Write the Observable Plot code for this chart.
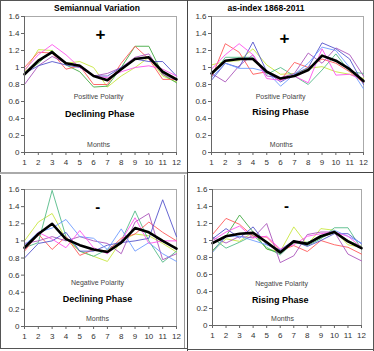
<!DOCTYPE html>
<html><head><meta charset="utf-8">
<script src="https://cdn.jsdelivr.net/npm/d3@7"></script>
<script src="https://cdn.jsdelivr.net/npm/@observablehq/plot@0.6"></script>
<style>
html,body{margin:0;padding:0;background:#fff;}
#root{position:relative;width:374px;height:351px;overflow:hidden;font-family:"Liberation Sans",Arial,sans-serif;}
.panel{position:absolute;}
.title{position:absolute;font-weight:bold;font-size:8.5px;color:#000;white-space:nowrap;transform:translateX(-50%);}
.line{position:absolute;}
</style></head>
<body><div id="root"></div>
<script>
const months = [1,2,3,4,5,6,7,8,9,10,11,12];
const yTicks = [0,0.2,0.4,0.6,0.8,1,1.2,1.4,1.6];
const titles = ["Semiannual Variation", "as-index 1868-2011"];
const signs = ["+", "+", "-", "-"];
const polarity = ["Positive Polarity", "Positive Polarity", "Negative Polarity", "Negative Polarity"];
const phases = ["Declining Phase", "Rising Phase", "Declining Phase", "Rising Phase"];
const axisTitle = "Months";

// Panel 1: positive polarity, declining phase
const p1Mean   = [0.92,1.08,1.18,1.05,1.02,0.90,0.85,0.98,1.10,1.12,0.95,0.86];
const p1Pink   = [0.97,1.15,1.27,1.15,1.00,0.90,0.88,0.95,1.00,1.02,0.98,0.90];
const p1Green  = [0.93,1.05,1.20,1.03,0.95,0.77,0.78,1.00,1.25,1.25,0.92,0.82];
const p1Yellow = [0.95,1.21,1.20,1.05,1.07,1.00,0.77,0.90,1.00,1.12,0.90,0.83];
const p1Red    = [1.00,1.18,1.17,0.98,1.02,0.80,0.80,1.05,1.25,1.10,0.86,0.86];
const p1Purple = [0.80,1.02,1.13,1.05,1.03,0.90,0.93,1.00,1.12,1.16,0.92,0.85];
const p1Blue   = [0.93,1.02,1.07,1.03,1.00,0.90,0.90,1.00,1.10,1.07,1.07,0.90];

// Panel 2: positive polarity, rising phase
const p2Mean   = [0.93,1.08,1.10,1.10,0.95,0.87,0.90,0.97,1.14,1.08,0.98,0.84];
const p2Red    = [0.88,1.28,1.18,0.92,0.95,0.85,1.06,1.00,1.10,1.05,0.95,0.82];
const p2Pink   = [0.98,1.15,1.28,1.15,0.87,0.85,0.90,0.82,1.22,0.91,0.92,0.85];
const p2Blue   = [0.85,1.05,1.00,1.30,0.95,0.83,0.92,1.00,1.29,1.22,1.10,0.80];
const p2Purple = [0.93,0.83,1.02,1.15,0.90,0.88,0.93,1.17,1.05,1.23,1.15,0.90];
const p2Light  = [0.88,1.05,0.99,0.99,0.95,0.78,0.92,1.05,1.24,1.20,1.00,0.75];
const p2Teal   = [0.90,1.12,1.12,1.12,0.92,1.00,0.90,0.80,0.97,1.16,0.95,0.93];
const p2Yellow = [1.03,1.07,1.08,1.22,1.03,0.92,0.93,0.99,1.01,0.95,0.92,0.87];

// Panel 3: negative polarity, declining phase
const p3Mean   = [0.92,1.08,1.20,1.02,0.95,0.90,0.87,0.98,1.15,1.10,1.00,0.91];
const p3Teal   = [0.92,0.98,1.59,1.05,0.88,0.82,0.90,1.00,1.35,1.00,0.75,0.88];
const p3Yellow = [1.00,1.22,1.32,1.02,0.88,0.82,0.76,1.00,1.08,1.06,0.97,0.87];
const p3Light  = [0.95,1.10,1.15,1.25,1.05,1.03,0.90,1.14,0.88,0.98,0.85,0.76];
const p3Blue   = [0.80,0.97,1.00,1.10,0.88,0.88,0.95,0.98,1.00,1.03,1.48,1.05];
const p3Red    = [0.88,1.08,0.90,1.05,0.83,0.90,0.88,1.03,1.08,1.22,1.10,1.00];
const p3Pink   = [0.90,1.10,1.02,0.92,1.12,0.92,0.85,1.00,1.27,0.97,1.00,1.00];
const p3Purple = [0.97,1.00,1.05,1.00,1.05,1.00,0.97,0.85,1.22,1.32,0.78,0.85];

// Panel 4: negative polarity, rising phase
const p4Mean   = [0.97,1.05,1.08,1.09,0.98,0.86,0.99,0.96,1.05,1.10,0.99,0.91];
const p4Red    = [1.07,1.26,1.19,1.05,1.04,0.88,0.94,0.87,1.00,0.95,0.92,0.84];
const p4Teal   = [1.03,0.91,0.98,1.06,0.92,0.83,0.98,0.94,1.02,1.15,1.15,0.90];
const p4Green  = [0.88,1.05,1.30,1.10,0.90,0.85,0.97,0.98,1.03,1.10,1.00,0.93];
const p4Yellow = [0.87,1.02,0.99,1.10,0.90,0.87,1.16,0.95,1.14,1.12,0.95,0.92];
const p4Blue   = [1.02,1.14,1.03,1.16,0.95,0.89,1.00,0.93,1.00,1.08,1.08,0.96];
const p4Light  = [0.86,1.05,1.05,1.00,0.95,0.88,0.98,0.97,1.05,1.12,1.05,0.97];
const p4Pink   = [1.00,1.10,1.17,1.03,1.05,0.90,0.95,1.05,1.08,1.10,1.05,0.92];
const p4Purple = [1.04,0.97,1.05,1.03,1.20,0.74,0.82,1.07,1.10,1.10,0.84,0.76];

// label anchor positions (data units) per panel: [signX, signY, polX, polY, phaseX, phaseY, monthsX, monthsY]
const labelPos = [
  [6.5,1.39, 6.36,0.66, 6.45,0.45, 6.36,0.094],
  [6.28,1.34, 6.0,0.66, 6.0,0.47, 6.05,0.094],
  [6.3,1.39, 6.28,0.51, 6.28,0.325, 6.28,0.093],
  [6.46,1.40, 6.1,0.49, 6.0,0.30, 6.17,0.08]
];

const C = {red:"#ff5a5a", pink:"#ff55ee", green:"#44aa44", yellow:"#c8e640", purple:"#aa55bb", blue:"#5555cc", light:"#6f9cff", teal:"#55bb88"};

const panels = [
  {left:0, top:0, m:[16,11,23,24], series:[[p1Yellow,C.yellow],[p1Green,C.green],[p1Red,C.red],[p1Purple,C.purple],[p1Blue,C.blue],[p1Pink,C.pink]], mean:p1Mean},
  {left:187, top:0, m:[16,11,23,24], series:[[p2Yellow,C.yellow],[p2Teal,C.teal],[p2Red,C.red],[p2Purple,C.purple],[p2Blue,C.blue],[p2Light,C.light],[p2Pink,C.pink]], mean:p2Mean},
  {left:0, top:175, m:[14,11,24,24], series:[[p3Yellow,C.yellow],[p3Teal,C.teal],[p3Red,C.red],[p3Purple,C.purple],[p3Blue,C.blue],[p3Light,C.light],[p3Pink,C.pink]], mean:p3Mean},
  {left:187, top:175, m:[14,13,25,25], series:[[p4Yellow,C.yellow],[p4Teal,C.teal],[p4Green,C.green],[p4Red,C.red],[p4Purple,C.purple],[p4Blue,C.blue],[p4Light,C.light],[p4Pink,C.pink]], mean:p4Mean}
];

const root = document.getElementById("root");
const toRows = arr => months.map((m,i)=>({m, v: arr[i]}));

panels.forEach((p, k) => {
  const lp = labelPos[k];
  const marks = [
    Plot.ruleY([1.6], {stroke:"#aaa", strokeWidth:1}),
    Plot.ruleX([12], {stroke:"#aaa", strokeWidth:1}),
    ...p.series.map(([arr, col]) => Plot.line(toRows(arr), {x:"m", y:"v", stroke:col, strokeWidth:0.9})),
    Plot.line(toRows(p.mean), {x:"m", y:"v", stroke:"#000", strokeWidth:2.6}),
    Plot.ruleX([1], {stroke:"#666", strokeWidth:1}),
    Plot.ruleY([0], {stroke:"#666", strokeWidth:1}),
    Plot.text([signs[k]], {x:()=>lp[0], y:()=>lp[1], text:d=>d, fontSize:signs[k]==="+"?17:15, fontWeight:"bold", fill:"#000"}),
    Plot.text([polarity[k]], {x:()=>lp[2], y:()=>lp[3], text:d=>d, fontSize:7, fill:"#444"}),
    Plot.text([phases[k]], {x:()=>lp[4], y:()=>lp[5], text:d=>d, fontSize:9, fontWeight:"bold", fill:"#000"}),
    Plot.text([axisTitle], {x:()=>lp[6], y:()=>lp[7], text:d=>d, fontSize:7, fill:"#444"}),
    Plot.axisY({ticks:yTicks, tickSize:3, tickPadding:2, tickFormat:d=>String(+d.toFixed(1)), stroke:"#666", fill:"#333", label:null}),
    Plot.axisX({ticks:months, tickSize:3, tickPadding:4, tickFormat:d=>String(d), stroke:"#666", fill:"#333", label:null})
  ];
  const chart = Plot.plot({
    width:187, height:175,
    marginTop:p.m[0], marginRight:p.m[1], marginBottom:p.m[2], marginLeft:p.m[3],
    x:{type:"linear", domain:[1,12]},
    y:{type:"linear", domain:[0,1.6]},
    style:{fontFamily:"Liberation Sans, Arial, sans-serif", fontSize:"8px", background:"transparent", color:"#333", overflow:"visible"},
    marks
  });
  const div = document.createElement("div");
  div.className = "panel";
  div.style.left = p.left + "px";
  div.style.top = p.top + "px";
  div.appendChild(chart);
  root.appendChild(div);
  if (k < 2) {
    const t = document.createElement("div");
    t.className = "title";
    t.textContent = titles[k];
    t.style.left = (p.left + (k===0 ? 97 : 79)) + "px";
    t.style.top = "3px";
    root.appendChild(t);
  }
});

// panel frames
const frames = [
  {l:0,t:0,w:1,h:173,c:"#555"}, {l:0,t:0,w:188,h:1,c:"#555"},
  {l:0,t:172,w:188,h:2,c:"#aaa"},
  {l:187,t:0,w:1,h:351,c:"#444"},
  {l:188,t:172,w:186,h:1,c:"#444"},
  {l:373,t:0,w:1,h:351,c:"#555"}, {l:188,t:0,w:186,h:1,c:"#555"},
  {l:0,t:175,w:1,h:174,c:"#555"}, {l:0,t:348,w:188,h:1,c:"#555"},
  {l:184,t:175,w:1,h:173,c:"#999"},
  {l:188,t:349,w:186,h:1,c:"#555"}
];
frames.forEach(f => {
  const d = document.createElement("div");
  d.className = "line";
  Object.assign(d.style, {left:f.l+"px", top:f.t+"px", width:f.w+"px", height:f.h+"px", background:f.c});
  root.appendChild(d);
});
</script></body></html>
